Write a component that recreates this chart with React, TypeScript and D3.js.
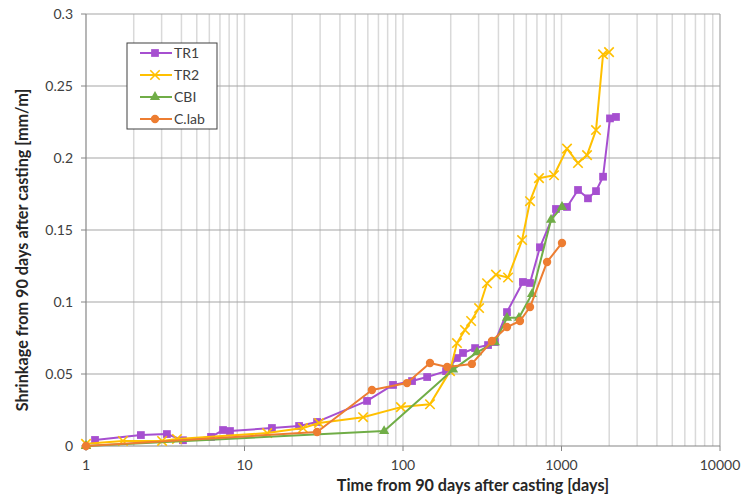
import * as React from 'react';
import * as d3 from 'd3';

// days after the 90-day reference, shrinkage in mm/m
const tr1Days = [1.14, 2.22, 3.24, 4.09, 6.15, 7.32, 8.1, 14.9, 22.1, 28.7, 59.3, 86.5, 114, 142, 187, 219, 239, 285, 344, 380, 453, 571, 633, 731, 923, 1083, 1271, 1469, 1651, 1829, 2023, 2207];
const tr1Shrink = [0.0042, 0.0076, 0.0083, 0.0040, 0.0063, 0.0111, 0.0104, 0.0125, 0.0139, 0.0167, 0.0313, 0.0424, 0.0451, 0.0479, 0.0520, 0.0611, 0.0646, 0.0680, 0.0701, 0.0722, 0.0930, 0.1139, 0.1132, 0.1380, 0.1646, 0.1660, 0.1778, 0.1720, 0.1770, 0.1870, 0.2275, 0.2285];

const tr2Days = [1, 1.71, 3.02, 3.75, 13.9, 23.4, 29.5, 56, 97, 148, 198, 219, 246, 269, 302, 339, 386, 460, 564, 633, 721, 897, 1083, 1271, 1449, 1651, 1829, 1995];
const tr2Shrink = [0.0015, 0.0035, 0.0035, 0.0049, 0.0090, 0.0125, 0.0160, 0.0200, 0.0270, 0.0290, 0.0520, 0.0715, 0.0806, 0.0868, 0.0958, 0.1130, 0.1190, 0.1170, 0.1430, 0.1700, 0.1860, 0.1880, 0.2065, 0.1965, 0.2020, 0.2194, 0.2720, 0.2735];

const cbiDays = [1, 76, 207, 293, 380, 453, 539, 651, 859, 1007];
const cbiShrink = [0.0, 0.0104, 0.053, 0.065, 0.072, 0.089, 0.089, 0.1055, 0.157, 0.166];

const clabDays = [1, 28.7, 63.7, 106, 148, 190, 272, 364, 453, 547, 633, 811, 1007];
const clabShrink = [0.0, 0.0097, 0.0389, 0.0437, 0.0576, 0.0549, 0.057, 0.0729, 0.0826, 0.0868, 0.0965, 0.1278, 0.141];

const xTicks = [1, 10, 100, 1000, 10000];
const yTicks = [0, 0.05, 0.1, 0.15, 0.2, 0.25, 0.3];

type Pt = { x: number; y: number };

const width = 742;
const height = 498;
const margin = { top: 14, right: 22, bottom: 52, left: 86 };
const font = 'Lato, "Noto Sans", sans-serif';

const zip = (xs: number[], ys: number[]): Pt[] => xs.map((x, i) => ({ x, y: ys[i] }));

const series = [
  { name: 'TR1', color: '#a64fd0', symbol: d3.symbolSquare, size: 60, stroke: false, data: zip(tr1Days, tr1Shrink) },
  { name: 'TR2', color: '#ffc000', symbol: d3.symbolX, size: 60, stroke: true, data: zip(tr2Days, tr2Shrink) },
  { name: 'CBI', color: '#70ad47', symbol: d3.symbolTriangle, size: 45, stroke: false, data: zip(cbiDays, cbiShrink) },
  { name: 'C.lab', color: '#ed7d31', symbol: d3.symbolCircle, size: 55, stroke: false, data: zip(clabDays, clabShrink) },
];

export default function App() {
  const x = d3.scaleLog().domain([1, 10000]).range([margin.left, width - margin.right]);
  const y = d3.scaleLinear().domain([0, 0.3]).range([height - margin.bottom, margin.top]);

  // minor grid positions: 1..9 in every decade
  const minor: number[] = [];
  for (let d = 1; d < 10000; d *= 10) {
    for (let k = 2; k <= 9; k += 1) minor.push(d * k);
  }

  const line = d3.line<Pt>().x((d) => x(d.x)).y((d) => y(d.y));
  const x0 = x(1);
  const x1 = x(10000);
  const y0 = y(0);
  const y1 = y(0.3);

  return (
    <svg width={width} height={height} style={{ position: 'absolute', left: 0, top: 0, background: '#fff' }}>
      {/* vertical grid */}
      {[...minor, 10, 100, 1000].map((v) => (
        <line key={'v' + v} x1={x(v)} x2={x(v)} y1={y1} y2={y0} stroke="#d9d9d9" strokeWidth={1.5} />
      ))}
      {/* horizontal grid */}
      {yTicks.slice(1).map((v) => (
        <line key={'h' + v} x1={x0} x2={x1} y1={y(v)} y2={y(v)} stroke="#a6a6a6" strokeWidth={1.2} />
      ))}
      {/* frame */}
      <line x1={x1} x2={x1} y1={y1} y2={y0} stroke="#a6a6a6" strokeWidth={1.2} />
      <line x1={x0} x2={x0} y1={y1} y2={y0} stroke="#868686" strokeWidth={1.2} />
      <line x1={x0} x2={x1} y1={y0} y2={y0} stroke="#868686" strokeWidth={1.2} />

      {/* y ticks */}
      {yTicks.map((v) => (
        <g key={'yt' + v}>
          <line x1={x0 - 5} x2={x0} y1={y(v)} y2={y(v)} stroke="#868686" />
          <text x={x0 - 13} y={y(v)} dy="0.35em" textAnchor="end" fontFamily={font} fontSize={14} fill="#404040">
            {v === 0 ? '0' : String(+v.toFixed(2))}
          </text>
        </g>
      ))}
      {/* x ticks */}
      {xTicks.map((v) => (
        <g key={'xt' + v}>
          <line x1={x(v)} x2={x(v)} y1={y0} y2={y0 + 5} stroke="#868686" />
          <text x={x(v)} y={y0 + 24} textAnchor="middle" fontFamily={font} fontSize={14} fill="#404040">
            {v}
          </text>
        </g>
      ))}

      {/* series */}
      {series.map((s) => (
        <g key={s.name}>
          <path d={line(s.data) ?? ''} fill="none" stroke={s.color} strokeWidth={2} strokeLinejoin="round" />
          {s.data.map((d, i) => (
            <path
              key={i}
              transform={`translate(${x(d.x)},${y(d.y)})`}
              d={d3.symbol(s.symbol, s.size)() ?? ''}
              fill={s.stroke ? 'none' : s.color}
              stroke={s.color}
              strokeWidth={s.stroke ? 1.6 : 0}
            />
          ))}
        </g>
      ))}

      {/* legend */}
      <rect x={127} y={43} width={90} height={86} fill="#fff" stroke="#404040" strokeWidth={1} />
      {series.map((s, i) => {
        const ly = 53 + i * 22;
        return (
          <g key={'lg' + s.name}>
            <line x1={140} x2={172} y1={ly} y2={ly} stroke={s.color} strokeWidth={2} />
            <path
              transform={`translate(155,${ly})`}
              d={d3.symbol(s.symbol, s.size)() ?? ''}
              fill={s.stroke ? 'none' : s.color}
              stroke={s.color}
              strokeWidth={s.stroke ? 1.6 : 0}
            />
            <text x={174} y={ly} dy="0.35em" fontFamily={font} fontSize={14} fill="#404040">{s.name}</text>
          </g>
        );
      })}

      {/* axis titles */}
      <text x={473} y={491} textAnchor="middle" fontFamily={font} fontSize={16.2} fontWeight="bold" fill="#262626">
        Time from 90 days after casting [days]
      </text>
      <text
        transform={`translate(28,250) rotate(-90)`}
        textAnchor="middle"
        fontFamily={font}
        fontSize={16.2}
        fontWeight="bold"
        fill="#262626"
      >
        Shrinkage from 90 days after casting [mm/m]
      </text>
    </svg>
  );
}
